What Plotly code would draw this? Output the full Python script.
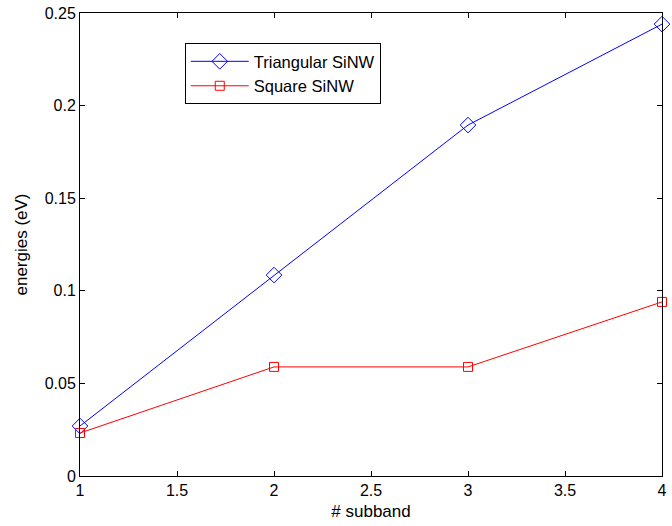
import plotly.graph_objects as go

subband = [1, 2, 3, 4]
triangular = [0.027, 0.1085, 0.1895, 0.244]
square = [0.0232, 0.0589, 0.0589, 0.094]

x_ticks = [1, 1.5, 2, 2.5, 3, 3.5, 4]
x_labels = ["1", "1.5", "2", "2.5", "3", "3.5", "4"]
y_ticks = [0, 0.05, 0.1, 0.15, 0.2, 0.25]
y_labels = ["0", "0.05", "0.1", "0.15", "0.2", "0.25"]

font = "Liberation Sans, Arial, sans-serif"

fig = go.Figure()
fig.add_trace(go.Scatter(
    x=subband, y=triangular, mode="lines+markers", name="Triangular SiNW",
    line=dict(color="#0000ff", width=1),
    marker=dict(symbol="diamond-open", size=12, color="#0000ff", line=dict(width=1)),
    cliponaxis=False,
))
fig.add_trace(go.Scatter(
    x=subband, y=square, mode="lines+markers", name="Square SiNW",
    line=dict(color="#ff0000", width=1),
    marker=dict(symbol="square-open", size=9, color="#ff0000", line=dict(width=1)),
    cliponaxis=False,
))

axis_common = dict(
    showline=True, linecolor="black", linewidth=1, mirror="ticks",
    ticks="inside", ticklen=5, tickcolor="black", tickwidth=1,
    showgrid=False, zeroline=False,
    tickfont=dict(family=font, size=16, color="black"),
)

fig.update_layout(
    width=672, height=526,
    margin=dict(l=80, r=5, t=13, b=50),
    paper_bgcolor="white", plot_bgcolor="white",
    font=dict(family=font, size=17, color="black"),
    xaxis=dict(range=[1, 4], tickvals=x_ticks, ticktext=x_labels,
               title=dict(text="# subband", font=dict(family=font, size=17), standoff=6),
               **axis_common),
    yaxis=dict(range=[0, 0.25], tickvals=y_ticks, ticktext=y_labels,
               title=dict(text="energies (eV)", font=dict(family=font, size=17), standoff=12),
               **axis_common),
    legend=dict(
        x=0.18, y=0.935, xanchor="left", yanchor="top",
        bgcolor="white", bordercolor="black", borderwidth=1,
        font=dict(family=font, size=16.5, color="black"),
        tracegroupgap=0, itemwidth=58,
    ),
    showlegend=True,
)

fig.write_html("out.html")
